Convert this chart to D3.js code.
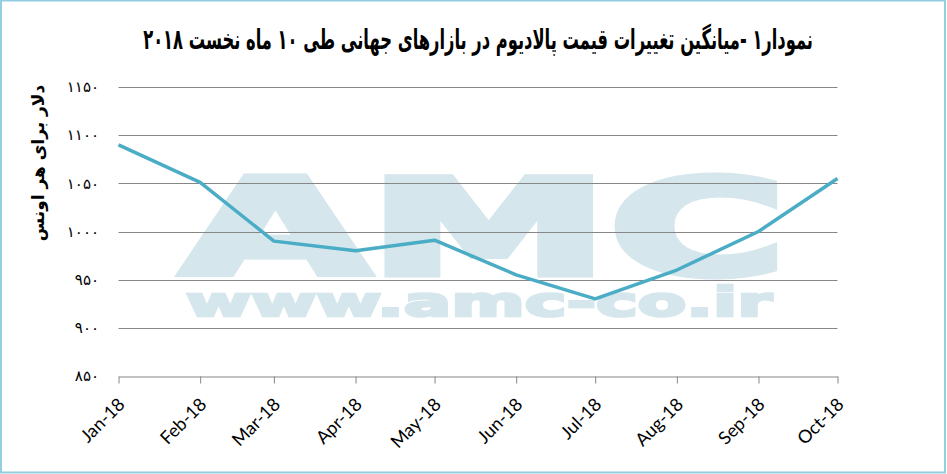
<!DOCTYPE html>
<html><head><meta charset="utf-8">
<script src="https://cdn.jsdelivr.net/npm/d3@7"></script>
<style>body{margin:0;background:#fff}svg{display:block}</style>
</head><body>
<svg id="c" width="947" height="474"></svg>
<script>
const months = ["2018-01-01","2018-02-01","2018-03-01","2018-04-01","2018-05-01","2018-06-01","2018-07-01","2018-08-01","2018-09-01","2018-10-01"];
const monthLabels = ["Jan-18","Feb-18","Mar-18","Apr-18","May-18","Jun-18","Jul-18","Aug-18","Sep-18","Oct-18"];
const prices = [1090, 1051, 990, 980, 991, 955, 930, 960, 1000, 1055];
const yTicks = [850, 900, 950, 1000, 1050, 1100, 1150];
const titleText = "نمودار۱ -میانگین  تغییرات قیمت پالادیوم در بازارهای جهانی طی ۱۰ ماه نخست ۲۰۱۸";
const yTitle = "دلار برای هر اونس";
const watermark1 = "AMC";
const watermark2 = "www.amc-co.ir";

const fa = s => String(s).replace(/\d/g, d => "۰۱۲۳۴۵۶۷۸۹"[d]);
const parse = d3.timeParse("%Y-%m-%d");
const dates = months.map(parse);

const svg = d3.select("#c");
const x = d3.scaleTime().domain([dates[0], dates[dates.length-1]]).range([118.5, 837.5]);
const y = d3.scaleLinear().domain([850, 1150]).range([376, 87]);

// border
svg.append("rect").attr("x",1).attr("y",0.5).attr("width",944).attr("height",472)
  .attr("fill","none").attr("stroke","#92cde0").attr("stroke-width",2);

// watermark (single text element, two lines)
const wm = svg.append("text").attr("fill","#d5e6ec").attr("stroke","#d5e6ec")
  .style("font-family","'DejaVu Sans'").style("font-weight","bold");
wm.append("tspan").attr("x",182).attr("y",274).attr("font-size",132).attr("stroke-width",7)
  .attr("textLength",604).attr("lengthAdjust","spacingAndGlyphs").text(watermark1);
wm.append("tspan").attr("x",186).attr("y",316).attr("font-size",40).attr("stroke-width",2.5)
  .attr("textLength",586).attr("lengthAdjust","spacingAndGlyphs").text(watermark2);

// gridlines
svg.append("g").selectAll("line").data(yTicks.filter(v=>v>850)).join("line")
  .attr("x1", x.range()[0]).attr("x2", x.range()[1])
  .attr("y1", d=>Math.round(y(d))+0.5).attr("y2", d=>Math.round(y(d))+0.5)
  .attr("stroke","#878787").attr("stroke-width",1);

// x axis
const xAxis = d3.axisBottom(x).tickValues(dates).tickSize(7).tickSizeOuter(0).tickFormat((d,i)=>monthLabels[i]);
const gx = svg.append("g").attr("transform",`translate(0,${Math.round(y(850))+0.5})`).call(xAxis);
gx.select(".domain").attr("stroke","#878787");
gx.selectAll(".tick line").attr("stroke","#878787");
gx.selectAll(".tick text")
  .attr("font-family","Lato, 'Open Sans', sans-serif").attr("font-size",18).attr("fill","#000")
  .attr("text-anchor","end").attr("dy",null).attr("y",0)
  .attr("transform","translate(7,29) rotate(-45)");

// y labels
svg.append("g").selectAll("text").data(yTicks).join("text")
  .attr("x", 99).attr("y", d=>y(d)).attr("dy","0.35em")
  .attr("text-anchor","end").attr("font-family","'DejaVu Sans'").attr("font-size",15)
  .style("letter-spacing","5px").text(d=>fa(d));

// y title
svg.append("text").attr("transform","translate(44,163) rotate(-90)")
  .attr("text-anchor","middle").attr("font-family","'DejaVu Sans'").attr("font-weight","bold")
  .attr("font-size",17).attr("direction","rtl").text(yTitle);

// line
const line = d3.line().x((d,i)=>x(dates[i])).y(d=>y(d));
svg.append("path").datum(prices).attr("d", line).attr("fill","none")
  .attr("stroke","#4bacc6").attr("stroke-width",3.5).attr("stroke-linejoin","round");

// title
const tt = svg.append("text").attr("font-family","'DejaVu Sans'").attr("font-weight","bold")
  .attr("font-size",28).attr("direction","rtl").attr("text-anchor","start").text(titleText);
const tw = tt.node().getComputedTextLength();
tt.attr("transform",`translate(813,49) scale(${670/tw},1)`);
</script>
</body></html>
